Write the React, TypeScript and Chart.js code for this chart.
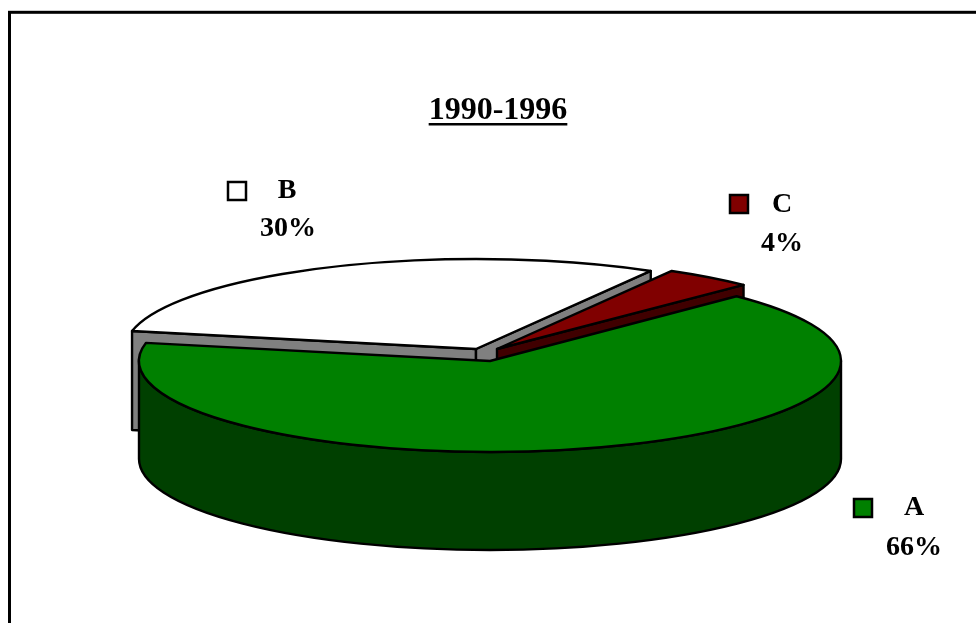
import React, { useEffect, useRef } from "react";
import { Chart, registerables } from "chart.js";

Chart.register(...registerables);

const TITLE = "1990-1996";
const categories = ["B", "C", "A"];
const shares = [30.1, 4.1, 65.8];
const topColors = ["#ffffff", "#800000", "#008000"];
const wallColors = ["#808080", "#400000", "#004000"];
const keyFill = ["#ffffff", "#800000", "#008000"];

const FONT = '"Liberation Serif", serif';
const sliceFrames = [
  { cx: 476, cy: 349, rx: 351, ry: 90, depth: 99 },
  { cx: 497, cy: 349, rx: 351, ry: 90, depth: 99 },
  { cx: 490, cy: 361, rx: 351, ry: 91, depth: 98 },
];
const labelFrames = [
  { kx: 228, ky: 182, lx: 287, ly: 191, px: 288, py: 229 },
  { kx: 730, ky: 195, lx: 782, ly: 205, px: 782, py: 244 },
  { kx: 854, ky: 499, lx: 914, ly: 508, px: 914, py: 548 },
];

const pieScene = {
  id: "pieScene",
  beforeDatasetsDraw(chart: any) {
    const ctx = chart.ctx;
    const arcs = chart.getDatasetMeta(0).data;
    ctx.save();
    ctx.lineWidth = 2.4;
    ctx.lineJoin = "round";
    ctx.strokeStyle = "#000";
    arcs.forEach((arc: any, i: number) => {
      const f = sliceFrames[i];
      const px = (a: number) => f.cx + f.rx * Math.cos(a);
      const py = (a: number) => f.cy + f.ry * Math.sin(a);
      const a0 = arc.startAngle;
      const a1 = arc.endAngle;
      const face = (a: number) => {
        ctx.beginPath();
        ctx.moveTo(f.cx, f.cy);
        ctx.lineTo(px(a), py(a));
        ctx.lineTo(px(a), py(a) + f.depth);
        ctx.lineTo(f.cx, f.cy + f.depth);
        ctx.closePath();
        ctx.fillStyle = wallColors[i];
        ctx.fill();
        ctx.stroke();
      };
      if (Math.cos(a0) < 0) face(a0);
      if (Math.cos(a1) > 0) face(a1);
      const w0 = Math.max(a0, 0);
      const w1 = Math.min(a1, Math.PI);
      if (w1 > w0) {
        ctx.beginPath();
        ctx.ellipse(f.cx, f.cy, f.rx, f.ry, 0, w0, w1);
        ctx.lineTo(px(w1), py(w1) + f.depth);
        ctx.ellipse(f.cx, f.cy + f.depth, f.rx, f.ry, 0, w1, w0, true);
        ctx.closePath();
        ctx.fillStyle = wallColors[i];
        ctx.fill();
        ctx.stroke();
      }
      ctx.save();
      ctx.translate(f.cx, f.cy);
      ctx.scale(f.rx / arc.outerRadius, f.ry / arc.outerRadius);
      ctx.translate(-arc.x, -arc.y);
      arc.draw(ctx);
      ctx.restore();
      ctx.beginPath();
      ctx.moveTo(f.cx, f.cy);
      ctx.ellipse(f.cx, f.cy, f.rx, f.ry, 0, a0, a1);
      ctx.closePath();
      ctx.stroke();
    });
    ctx.restore();
    return false;
  },
  afterDraw(chart: any) {
    const ctx = chart.ctx;
    ctx.save();
    ctx.strokeStyle = "#000";
    ctx.lineWidth = 3;
    ctx.strokeRect(9.5, 12.3, 1100, 800);

    const tb = chart.titleBlock;
    const mid = (tb.left + tb.right) / 2;
    ctx.font = `bold 32px ${FONT}`;
    const tw = ctx.measureText(TITLE).width;
    ctx.fillStyle = "#000";
    ctx.fillRect(mid - tw / 2, 123, tw, 2.5);

    ctx.textAlign = "center";
    ctx.textBaseline = "middle";
    categories.forEach((c, i) => {
      const p = labelFrames[i];
      ctx.fillStyle = keyFill[i];
      ctx.lineWidth = 2.5;
      ctx.fillRect(p.kx, p.ky, 18, 18);
      ctx.strokeRect(p.kx, p.ky, 18, 18);
      ctx.fillStyle = "#000";
      ctx.font = `bold 28px ${FONT}`;
      ctx.fillText(c, p.lx, p.ly);
      ctx.fillText(`${Math.round(shares[i])}%`, p.px, p.py);
    });
    ctx.restore();
  },
};

export default function App() {
  const ref = useRef<HTMLCanvasElement>(null);
  useEffect(() => {
    document.body.style.margin = "0";
    const chart = new Chart(ref.current!, {
      type: "pie",
      data: {
        labels: categories,
        datasets: [
          { data: shares, backgroundColor: topColors, borderWidth: 0 },
        ],
      },
      options: {
        responsive: false,
        animation: false,
        events: [],
        rotation: -78.5,
        layout: { padding: { left: 20 } },
        plugins: {
          legend: { display: false },
          tooltip: { enabled: false },
          title: {
            display: true,
            text: TITLE,
            color: "#000",
            font: { family: FONT, size: 32, weight: "bold", lineHeight: 1.2 },
            padding: { top: 92, bottom: 10 },
          },
        },
      },
      plugins: [pieScene],
    } as any);
    return () => chart.destroy();
  }, []);
  return (
    <canvas
      ref={ref}
      width={976}
      height={623}
      style={{ display: "block", position: "absolute", left: 0, top: 0 }}
    />
  );
}
